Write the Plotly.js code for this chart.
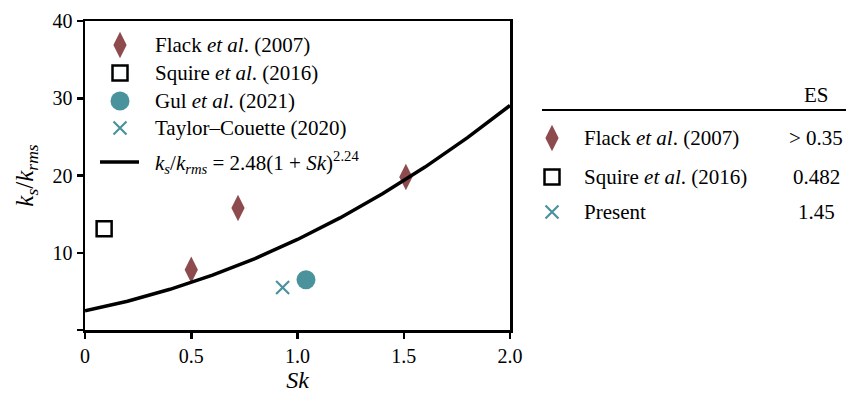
<!DOCTYPE html>
<html>
<head>
<meta charset="utf-8">
<script src="https://cdn.plot.ly/plotly-3.0.1.min.js"></script>
<style>html,body{margin:0;padding:0;background:#fff;}#chart{width:846px;height:393px;}</style>
</head>
<body>
<div id="chart"></div>
<script>
// Data
var flackSk = [0.50, 0.72, 1.51];
var flackKs = [7.8, 15.8, 19.8];
var squireSk = [0.09];
var squireKs = [13.1];
var gulSk = [1.04];
var gulKs = [6.5];
var tcSk = [0.93];
var tcKs = [5.5];
// Fit curve k_s/k_rms = 2.48(1+Sk)^2.24, values read at Sk steps
var fitSk = [0, 0.2, 0.4, 0.6, 0.8, 1.0, 1.2, 1.4, 1.6, 1.8, 2.0];
var fitKs = [2.48, 3.73, 5.27, 7.11, 9.25, 11.72, 14.51, 17.63, 21.09, 24.90, 29.07];
// Tick labels
var xTickVals = [0, 0.5, 1.0, 1.5, 2.0];
var xTickText = ['0', '0.5', '1.0', '1.5', '2.0'];
var yTickVals = [0, 10, 20, 30, 40];
var yTickText = ['', '10', '20', '30', '40'];
// Legend labels
var legendNames = ['Flack <i>et al</i>. (2007)', 'Squire <i>et al</i>. (2016)', 'Gul <i>et al</i>. (2021)',
  'Taylor–Couette (2020)',
  '<i>k</i><sub><i>s</i></sub>/<i>k</i><sub><i>rms</i></sub> = 2.48(1 + <i>Sk</i>)<sup>2.24</sup>'];
// Side table
var tableHeader = 'ES';
var tableRows = ['Flack <i>et al</i>. (2007)', 'Squire <i>et al</i>. (2016)', 'Present'];
var tableES = ['&gt; 0.35', '0.482', '1.45'];

var RED = '#8e4b4e';
var TEAL = '#4a939c';
var FONT = 'Liberation Serif';

var MK = {
  flack: {symbol: 'diamond-tall', size: 19, color: RED, line: {width: 0}},
  squire: {symbol: 'square-open', size: 15, color: '#000', line: {width: 2.5, color: '#000'}},
  gul: {symbol: 'circle', size: 19, color: TEAL, line: {width: 0}},
  tc: {symbol: 'x-thin-open', size: 13, color: TEAL, line: {width: 2.2, color: TEAL}}
};

// layout positions (pixel-like units of the helper axes)
var legX = 35, legTextX = 68, legRowY = [24, 52, 80, 107, 141];
var tabMarkX = 12, tabTextX = 42, tabValX = 276, tabHeadY = 74, tabLineY = 89, tabRowY = [117, 156, 191];

var traces = [
  {x: flackSk, y: flackKs, mode: 'markers', type: 'scatter', marker: MK.flack},
  {x: squireSk, y: squireKs, mode: 'markers', type: 'scatter', marker: MK.squire},
  {x: gulSk, y: gulKs, mode: 'markers', type: 'scatter', marker: MK.gul},
  {x: tcSk, y: tcKs, mode: 'markers', type: 'scatter', marker: MK.tc},
  {x: fitSk, y: fitKs, mode: 'lines', type: 'scatter', line: {color: '#000', width: 3.5}},
  // in-plot legend markers
  {x: [legX], y: [legRowY[0]], xaxis: 'x3', yaxis: 'y3', mode: 'markers', marker: MK.flack},
  {x: [legX], y: [legRowY[1]], xaxis: 'x3', yaxis: 'y3', mode: 'markers', marker: MK.squire},
  {x: [legX], y: [legRowY[2]], xaxis: 'x3', yaxis: 'y3', mode: 'markers', marker: MK.gul},
  {x: [legX], y: [legRowY[3]], xaxis: 'x3', yaxis: 'y3', mode: 'markers', marker: MK.tc},
  {x: [legX - 20, legX + 19], y: [legRowY[4], legRowY[4]], xaxis: 'x3', yaxis: 'y3', mode: 'lines',
   line: {color: '#000', width: 3.5}},
  // side table markers
  {x: [tabMarkX], y: [tabRowY[0]], xaxis: 'x2', yaxis: 'y2', mode: 'markers', marker: MK.flack},
  {x: [tabMarkX], y: [tabRowY[1]], xaxis: 'x2', yaxis: 'y2', mode: 'markers', marker: MK.squire},
  {x: [tabMarkX], y: [tabRowY[2]], xaxis: 'x2', yaxis: 'y2', mode: 'markers', marker: MK.tc}
];
traces.forEach(function (t) { t.showlegend = false; t.hoverinfo = 'skip'; t.type = 'scatter'; });

var annotations = [];
for (var j = 0; j < legendNames.length; j++) {
  annotations.push({xref: 'x3', yref: 'y3', x: legTextX, y: legRowY[j], text: legendNames[j], showarrow: false,
    xanchor: 'left', yanchor: 'middle', font: {family: FONT, size: 21, color: '#000'}});
}
for (var i = 0; i < tableRows.length; i++) {
  annotations.push({xref: 'x2', yref: 'y2', x: tabTextX, y: tabRowY[i], text: tableRows[i], showarrow: false,
    xanchor: 'left', yanchor: 'middle', font: {family: FONT, size: 21, color: '#000'}});
  annotations.push({xref: 'x2', yref: 'y2', x: tabValX, y: tabRowY[i], text: tableES[i], showarrow: false,
    xanchor: 'center', yanchor: 'middle', font: {family: FONT, size: 21, color: '#000'}});
}
annotations.push({xref: 'x2', yref: 'y2', x: tabValX, y: tabHeadY, text: tableHeader, showarrow: false,
  xanchor: 'center', yanchor: 'middle', font: {family: FONT, size: 21, color: '#000'}});

var mainDom = [0, 425 / 761];
var layout = {
  width: 846, height: 393,
  margin: {l: 85, r: 0, t: 21, b: 63},
  paper_bgcolor: '#fff', plot_bgcolor: 'rgba(0,0,0,0)',
  font: {family: FONT, size: 21, color: '#000'},
  showlegend: false,
  xaxis: {domain: mainDom, range: [0, 2.0], tickvals: xTickVals, ticktext: xTickText, showgrid: false, zeroline: false,
    showline: true, linecolor: '#000', linewidth: 2.5, mirror: true, ticks: 'outside', ticklen: 6, tickwidth: 2.5,
    tickcolor: '#000', tickfont: {family: FONT, size: 20},
    title: {text: '<i>Sk</i>', font: {family: FONT, size: 24}, standoff: 10}},
  yaxis: {range: [0, 40], tickvals: yTickVals, ticktext: yTickText, showgrid: false, zeroline: false,
    showline: true, linecolor: '#000', linewidth: 2.5, mirror: true, ticks: 'outside', ticklen: 6, tickwidth: 2.5,
    tickcolor: '#000', tickfont: {family: FONT, size: 20},
    title: {text: '<i>k</i><sub><i>s</i></sub>/<i>k</i><sub><i>rms</i></sub>', font: {family: FONT, size: 25}, standoff: 12}},
  xaxis2: {domain: [455 / 761, 1], range: [0, 306], visible: false, fixedrange: true, anchor: 'y2'},
  yaxis2: {domain: [0, 1], range: [309, 0], visible: false, fixedrange: true, anchor: 'x2'},
  xaxis3: {overlaying: 'x', range: [0, 425], visible: false, fixedrange: true, anchor: 'y3'},
  yaxis3: {overlaying: 'y', range: [309, 0], visible: false, fixedrange: true, anchor: 'x3'},
  shapes: [
    {type: 'line', xref: 'x2', yref: 'y2', x0: 2, x1: 306, y0: tabLineY, y1: tabLineY,
     line: {color: '#000', width: 2}}
  ],
  annotations: annotations
};

Plotly.newPlot('chart', traces, layout, {displayModeBar: false, staticPlot: true});
</script>
</body>
</html>
